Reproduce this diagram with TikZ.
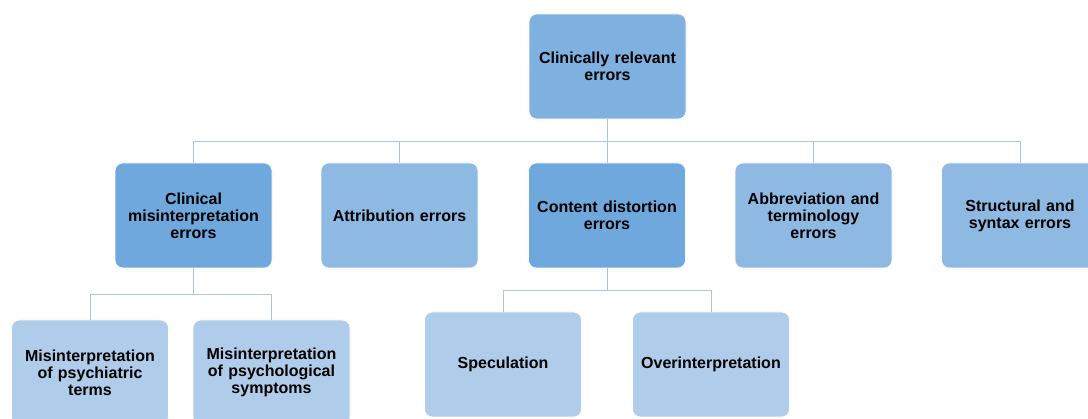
\documentclass[tikz,border=0pt]{standalone}
\usepackage{fontspec}
\setmainfont{Liberation Sans}
\definecolor{rootc}{HTML}{7FB1E0}
\definecolor{darkc}{HTML}{6FA8DC}
\definecolor{midc}{HTML}{8DB9E3}
\definecolor{lightc}{HTML}{AFCDEA}
\definecolor{linec}{HTML}{A8C4E6}
\tikzset{
  box/.style={rectangle, rounded corners=8pt, draw=white, line width=0.6pt,
    minimum width=157pt, minimum height=105pt, text width=152pt, align=center,
    inner sep=0pt, font=\bfseries\fontsize{16}{16.8}\selectfont, text=black},
  conn/.style={draw=linec, line width=1pt}
}
\begin{document}
\begin{tikzpicture}[x=1pt,y=-1pt]
\useasboundingbox (0,0) rectangle (1088,419);
\clip (0,0) rectangle (1088,419);
\fill[white] (0,0) rectangle (1088,419);
\node[box, fill=rootc] (root) at (607.5,66.5) {Clinically relevant\\errors};
\node[box, fill=darkc] (clin) at (193.5,215.5) {Clinical\\misinterpretation\\errors};
\node[box, fill=midc] (attr) at (399.5,215.5) {Attribution errors};
\node[box, fill=darkc] (cont) at (607,215.5) {Content distortion\\errors};
\node[box, fill=midc] (abbr) at (813.5,215.5) {Abbreviation and\\terminology\\errors};
\node[box, fill=midc] (stru) at (1020,215.5) {Structural and\\syntax errors};
\node[box, fill=lightc] (psyt) at (90,372.5) {Misinterpretation\\of psychiatric\\terms};
\node[box, fill=lightc] (psys) at (271.5,372.5) {Misinterpretation\\of psychological\\symptoms};
\node[box, fill=lightc] (spec) at (503,364.5) {Speculation};
\node[box, fill=lightc] (over) at (711,364.5) {Overinterpretation};
\foreach \c in {clin,attr,cont,abbr,stru}
  \draw[conn] (root.south) -- ++(0,22) -| (\c.north);
\foreach \c in {psyt,psys}
  \draw[conn] (clin.south) -- ++(0,26) -| (\c.north);
\foreach \c in {spec,over}
  \draw[conn] (cont.south) -- ++(0,22) -| (\c.north);
\end{tikzpicture}
\end{document}
